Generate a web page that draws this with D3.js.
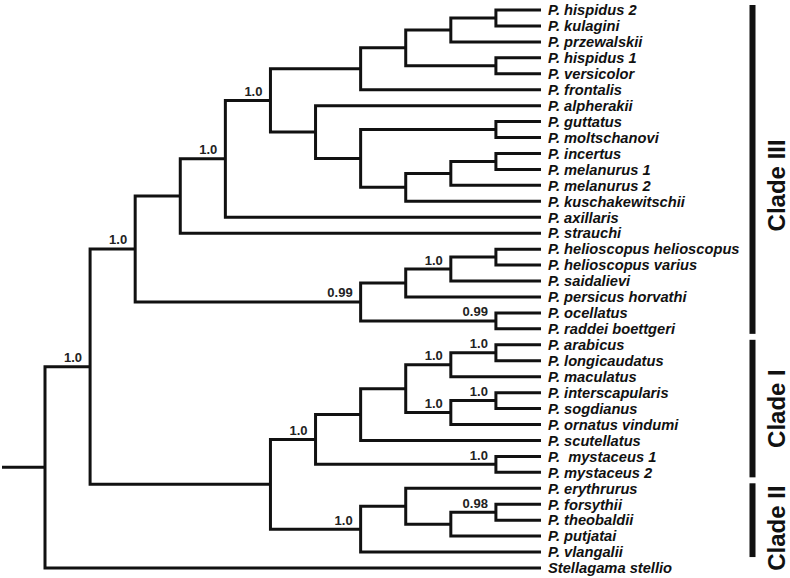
<!DOCTYPE html>
<html>
<head>
<meta charset="utf-8">
<script src="https://cdn.jsdelivr.net/npm/d3@7/dist/d3.min.js"></script>
<style>
  html, body { margin: 0; padding: 0; background: #ffffff; }
  svg { display: block; }
  .leaf { font-family: "Liberation Sans", Arial, Helvetica, sans-serif; font-weight: bold; font-style: italic; font-size: 14.7px; fill: #111; white-space: pre; }
  .support { font-family: "Liberation Sans", Arial, Helvetica, sans-serif; font-weight: bold; font-size: 13px; fill: #222; }
  .clade { font-family: "Liberation Sans", Arial, Helvetica, sans-serif; font-weight: bold; font-size: 24px; fill: #111; }
</style>
</head>
<body>
<svg id="chart" width="790" height="578"></svg>
<script>
// ---------------- DATA ----------------
// Terminal taxa, top to bottom
const leaves = [
  "P. hispidus 2", "P. kulagini", "P. przewalskii", "P. hispidus 1", "P. versicolor",
  "P. frontalis", "P. alpherakii", "P. guttatus", "P. moltschanovi", "P. incertus",
  "P. melanurus 1", "P. melanurus 2", "P. kuschakewitschii", "P. axillaris", "P. strauchi",
  "P. helioscopus helioscopus", "P. helioscopus varius", "P. saidalievi", "P. persicus horvathi",
  "P. ocellatus", "P. raddei boettgeri", "P. arabicus", "P. longicaudatus", "P. maculatus",
  "P. interscapularis", "P. sogdianus", "P. ornatus vindumi", "P. scutellatus",
  "P.  mystaceus 1", "P. mystaceus 2", "P. erythrurus", "P. forsythii", "P. theobaldii",
  "P. putjatai", "P. vlangalii", "Stellagama stellio"
];

// Topology (Newick, leaves referenced by index) with posterior support values
const topology =
  "((((((((((0,1),2),(3,4)),5),(6,((7,8),(((9,10),11),12))))1.0,13)1.0,14)," +
  "((((15,16),17)1.0,18),(19,20)0.99)0.99)1.0," +
  "((((((21,22)1.0,23)1.0,((24,25)1.0,26)1.0),27),(28,29)1.0)1.0," +
  "((30,((31,32)0.98,33)),34)1.0))1.0,35);";

// Clades marked on the right
const cladeNames = ["Clade III", "Clade I", "Clade II"];
const cladeFirst = ["P. hispidus 2", "P. arabicus", "P. erythrurus"];
const cladeLast  = ["P. raddei boettgeri", "P. mystaceus 2", "P. vlangalii"];
const cladeLabelSpan = [
  ["P. melanurus 2", "P. melanurus 2"],
  ["P. interscapularis", "P. ornatus vindumi"],
  ["P. theobaldii", "P. putjatai"]
];

// ---------------- PARSER ----------------
function parseNewick(s) {
  let i = 0;
  function readLabel() {
    let t = "";
    while (i < s.length && !",();".includes(s[i])) t += s[i++];
    return t;
  }
  function node() {
    if (s[i] === "(") {
      i++;
      const children = [node()];
      while (s[i] === ",") { i++; children.push(node()); }
      i++; // ')'
      const lab = readLabel();
      return { children, support: lab || null };
    }
    const lab = readLabel();
    return { name: leaves[+lab] };
  }
  return node();
}

// ---------------- LAYOUT ----------------
const svg = d3.select("#chart");
const root = d3.hierarchy(parseNewick(topology));

const xScale = d3.scaleLinear().domain([root.height, 0]).range([45, 541]);
const yScale = d3.scalePoint().domain(leaves).range([10, 568]);

root.eachAfter(d => {
  d.x = xScale(d.height);
  if (!d.children) d.y = yScale(d.data.name);
  else d.y = (d.children[0].y + d.children[d.children.length - 1].y) / 2;
});

const g = svg.append("g");

// root stub
g.append("path")
  .attr("d", `M2,${root.y}H${root.x}`)
  .attr("fill", "none").attr("stroke", "#111").attr("stroke-width", 3);

// brackets for every internal node
g.selectAll("path.br")
  .data(root.descendants().filter(d => d.children))
  .join("path")
  .attr("class", "br")
  .attr("fill", "none")
  .attr("stroke", "#111")
  .attr("stroke-width", 3)
  .attr("stroke-linejoin", "miter")
  .attr("d", d => {
    const a = d.children[0], b = d.children[d.children.length - 1];
    return `M${a.x},${a.y}H${d.x}V${b.y}H${b.x}`;
  });

// leaf labels
g.selectAll("text.leaf")
  .data(root.leaves())
  .join("text")
  .attr("class", "leaf")
  .attr("x", d => d.x + 7)
  .attr("y", d => d.y)
  .attr("dy", "0.36em")
  .attr("xml:space", "preserve")
  .text(d => d.data.name);

// support values
g.selectAll("text.support")
  .data(root.descendants().filter(d => d.data.support))
  .join("text")
  .attr("class", "support")
  .attr("text-anchor", "end")
  .attr("x", d => d.x - 8)
  .attr("y", d => d.y - 4.5)
  .text(d => d.data.support);

// clade bars and labels
const cl = g.append("g");
cladeNames.forEach((name, k) => {
  const y0 = yScale(cladeFirst[k]) - 5;
  const y1 = yScale(cladeLast[k]) + 5;
  cl.append("rect")
    .attr("x", 749.5).attr("y", y0)
    .attr("width", 6).attr("height", y1 - y0)
    .attr("fill", "#111");
  const cy = (yScale(cladeLabelSpan[k][0]) + yScale(cladeLabelSpan[k][1])) / 2;
  cl.append("text")
    .attr("class", "clade")
    .attr("text-anchor", "middle")
    .attr("transform", `translate(785,${cy}) rotate(-90)`)
    .text(name);
});
</script>
</body>
</html>
